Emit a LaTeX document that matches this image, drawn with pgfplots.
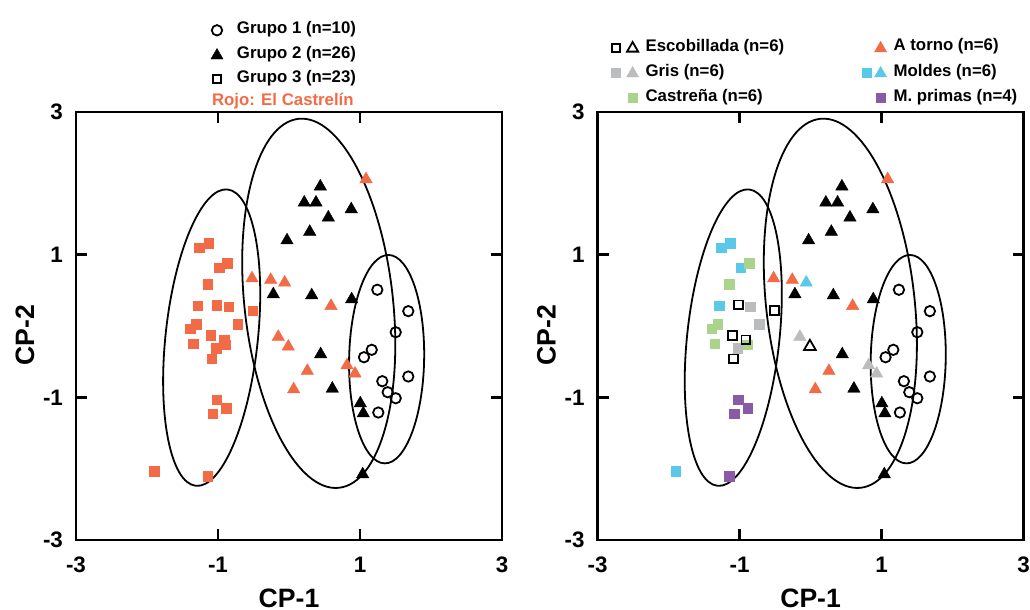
\documentclass[border=0pt]{standalone}
\usepackage{fontspec}
\setmainfont{Liberation Sans}
\usepackage{pgfplots}
\usepackage{pgfplotstable}
\pgfplotsset{compat=1.18}

\definecolor{rojo}{RGB}{242,107,70}
\definecolor{celeste}{RGB}{90,200,232}
\definecolor{verde}{RGB}{170,212,140}
\definecolor{gris}{RGB}{186,188,190}
\definecolor{morado}{RGB}{137,90,166}

\tikzset{legfont/.style={font=\fontsize{8.4}{10}\selectfont\bfseries}}

% ---------- left panel ----------
\pgfplotstableread{
x y
-1.263 1.097
-1.131 1.161
-0.982 0.816
-0.869 0.881
-1.145 0.586
-1.286 0.283
-1.018 0.295
-0.849 0.269
-0.511 0.217
-1.394 -0.039
-1.310 0.021
-0.723 0.021
-1.103 -0.133
-1.348 -0.250
-0.911 -0.194
-0.892 -0.264
-1.028 -0.311
-1.089 -0.460
-1.018 -1.035
-0.887 -1.153
-1.075 -1.231
-1.901 -2.036
-1.145 -2.107
}\tSq

\pgfplotstableread{
x y
0.441 1.955
0.215 1.730
0.380 1.730
0.877 1.636
0.554 1.520
0.292 1.320
-0.028 1.200
-0.221 0.444
0.320 0.430
0.883 0.374
0.446 -0.397
0.610 -0.879
1.004 -1.085
1.046 -1.225
1.038 -2.080
}\tTriB

\pgfplotstableread{
x y
1.085 2.057
-0.521 0.668
-0.258 0.646
-0.061 0.608
0.592 0.281
-0.151 -0.153
-0.010 -0.289
0.258 -0.630
0.817 -0.552
0.930 -0.668
0.066 -0.888
}\tTriR

\pgfplotstableread{
x y
1.244 0.508
1.680 0.208
1.503 -0.087
1.165 -0.334
1.056 -0.438
1.314 -0.774
1.680 -0.708
1.390 -0.928
1.503 -1.013
1.258 -1.213
}\tCirc

% ---------- right panel ----------
\pgfplotstableread{
x y
-1.263 1.097
-1.131 1.161
-0.982 0.816
-1.286 0.283
-1.901 -2.036
}\tSqCel

\pgfplotstableread{
x y
-0.869 0.881
-1.145 0.586
-1.394 -0.039
-1.310 0.021
-1.348 -0.250
-0.892 -0.264
}\tSqVer

\pgfplotstableread{
x y
-1.018 0.295
-0.511 0.217
-1.103 -0.133
-0.911 -0.194
-1.089 -0.460
}\tSqEsc

\pgfplotstableread{
x y
-0.849 0.269
-0.723 0.021
-1.028 -0.311
}\tSqGris

\pgfplotstableread{
x y
-1.018 -1.035
-0.887 -1.153
-1.075 -1.231
-1.145 -2.107
}\tSqMor

\pgfplotstableread{
x y
1.085 2.057
-0.521 0.668
-0.258 0.646
0.592 0.281
0.258 -0.630
0.066 -0.888
}\tTriRojo

\pgfplotstableread{
x y
-0.061 0.608
}\tTriCel

\pgfplotstableread{
x y
-0.151 -0.153
0.817 -0.552
0.930 -0.668
}\tTriGris

\pgfplotstableread{
x y
-0.010 -0.289
}\tTriEsc

\pgfplotsset{
  myax/.style={
    scale only axis, width=213pt, height=214pt,
    xmin=-3, xmax=3, ymin=-3, ymax=3,
    xtick={-3,-1,1,3}, ytick={-3,-1,1,3},
    xticklabels={-3,-1,1,3}, yticklabels={-3,-1,1,3},
    tick align=inside, major tick length=5.5pt,
    axis line style={line width=1.3pt},
    every tick/.style={black, line width=1.3pt},
    tick label style={font=\fontsize{11.2}{13}\selectfont\bfseries},
    xticklabel style={yshift=-5pt},
    yticklabel style={xshift=-3pt},
    label style={font=\fontsize{13.3}{15}\selectfont\bfseries},
    xlabel={CP-1}, ylabel={CP-2},
    xlabel style={at={(axis description cs:0.5,-0.136)}, anchor=center},
    ylabel style={at={(axis description cs:-0.12,0.479)}, anchor=center},
    legend cell align=left,
  },
  sqF/.style={only marks, forget plot, mark=square*, mark size=2.4pt, color=#1, mark options={line width=0.2pt}},
  sqO/.style={only marks, forget plot, mark=square, mark size=2.2pt, black, mark options={line width=0.9pt}},
  trF/.style={only marks, forget plot, mark=triangle*, mark size=3.6pt, color=#1, mark options={line width=0.2pt}},
  trO/.style={only marks, forget plot, mark=triangle, mark size=3.4pt, black, mark options={line width=0.9pt}},
  ciO/.style={only marks, forget plot, mark=o, mark size=2.6pt, black, mark options={line width=0.9pt}},
}

% legend image geometry (shifted down to compensate pgfplots' own lift)
\def\bbL{(-4pt,-5.3pt) rectangle (10pt,2.7pt)}
\def\bbR{(-4pt,-5.3pt) rectangle (15pt,2.7pt)}
\def\bbRR{(-4pt,-5.3pt) rectangle (13.5pt,2.7pt)}
\def\my{-0.5pt}
\def\ty{-0.9pt}

\newcommand{\ellipses}{%
  \draw[line width=0.9pt, rotate around={83.9:(axis cs:-1.089,-0.163)}] (axis cs:-1.089,-0.163) ellipse [x radius=2.099, y radius=0.647];
  \draw[line width=0.9pt, rotate around={96.27:(axis cs:0.419,0.318)}] (axis cs:0.419,0.318) ellipse [x radius=2.614, y radius=1.041];
  \draw[line width=0.9pt, rotate around={88.9:(axis cs:1.375,-0.465)}] (axis cs:1.375,-0.465) ellipse [x radius=1.468, y radius=0.526];
}

\begin{document}
\begin{tikzpicture}
\useasboundingbox (0,0) rectangle (515pt,305pt);

% ================= LEFT =================
\begin{axis}[myax, at={(38pt,35pt)}, anchor=south west,
  legend style={at={(axis description cs:0.3122,1.2119)}, anchor=north west,
    draw=none, fill=none, inner sep=0pt, outer sep=0pt, row sep=2.9pt, legfont,
    nodes={inner sep=0pt, outer sep=0pt, text height=6.2pt, text depth=1.8pt}}]
\addplot[sqF=rojo] table {\tSq};
\addplot[trF=black] table {\tTriB};
\addplot[trF=rojo] table {\tTriR};
\addplot[ciO] table {\tCirc};
\ellipses
\addlegendimage{legend image code/.code={\path[draw=none,fill=none] \bbL;
  \draw[black,line width=0.9pt] plot[mark=o, mark size=2.6pt] coordinates {(0pt,\my)};}}
\addlegendentry{Grupo 1 (n=10)}
\addlegendimage{legend image code/.code={\path[draw=none,fill=none] \bbL;
  \draw[black,fill=black,line width=0.2pt] plot[mark=triangle*, mark size=3.5pt] coordinates {(0pt,\ty)};}}
\addlegendentry{Grupo 2 (n=26)}
\addlegendimage{legend image code/.code={\path[draw=none,fill=none] \bbL;
  \draw[black,line width=0.9pt] plot[mark=square, mark size=2pt] coordinates {(0pt,\my)};}}
\addlegendentry{Grupo 3 (n=23)}
\end{axis}
\node[anchor=base west, text=rojo, legfont, inner sep=0pt] at (105.85pt,252pt) {Rojo: El Castrelín};

% ================= RIGHT =================
\begin{axis}[myax, at={(298.8pt,35pt)}, anchor=south west,
  legend style={at={(axis description cs:0.0235,1.1715)}, anchor=north west,
    draw=none, fill=none, inner sep=0pt, outer sep=0pt, row sep=3.25pt, legfont,
    nodes={inner sep=0pt, outer sep=0pt, text height=6.2pt, text depth=1.8pt}}]
\addplot[sqF=celeste] table {\tSqCel};
\addplot[sqF=verde] table {\tSqVer};
\addplot[sqF=gris] table {\tSqGris};
\addplot[sqF=morado] table {\tSqMor};
\addplot[sqO] table {\tSqEsc};
\addplot[trF=black] table {\tTriB};
\addplot[trF=rojo] table {\tTriRojo};
\addplot[trF=celeste] table {\tTriCel};
\addplot[trF=gris] table {\tTriGris};
\addplot[trO] table {\tTriEsc};
\addplot[ciO] table {\tCirc};
\ellipses
\addlegendimage{legend image code/.code={\path[draw=none,fill=none] \bbR;
  \draw[black,line width=0.9pt] plot[mark=square, mark size=2pt] coordinates {(0pt,\my)};
  \draw[black,line width=0.9pt] plot[mark=triangle, mark size=3.2pt] coordinates {(8.5pt,\ty)};}}
\addlegendentry{Escobillada (n=6)}
\addlegendimage{legend image code/.code={\path[draw=none,fill=none] \bbR;
  \draw[gris,fill=gris,line width=0.2pt] plot[mark=square*, mark size=2.2pt] coordinates {(0pt,\my)};
  \draw[gris,fill=gris,line width=0.2pt] plot[mark=triangle*, mark size=3.5pt] coordinates {(8.5pt,\ty)};}}
\addlegendentry{Gris (n=6)}
\addlegendimage{legend image code/.code={\path[draw=none,fill=none] \bbR;
  \draw[verde,fill=verde,line width=0.2pt] plot[mark=square*, mark size=2.2pt] coordinates {(8.5pt,\my)};}}
\addlegendentry{Castreña (n=6)}
\end{axis}

\begin{axis}[scale only axis, width=213pt, height=214pt, at={(298.8pt,35pt)}, anchor=south west,
  hide axis, xmin=0, xmax=1, ymin=0, ymax=1, legend cell align=left,
  legend style={at={(axis description cs:0.6127,1.1715)}, anchor=north west,
    draw=none, fill=none, inner sep=0pt, outer sep=0pt, row sep=3.25pt, legfont,
    nodes={inner sep=0pt, outer sep=0pt, text height=6.2pt, text depth=1.8pt}}]
\addlegendimage{legend image code/.code={\path[draw=none,fill=none] \bbRR;
  \draw[rojo,fill=rojo,line width=0.2pt] plot[mark=triangle*, mark size=3.5pt] coordinates {(7pt,\ty)};}}
\addlegendentry{A torno (n=6)}
\addlegendimage{legend image code/.code={\path[draw=none,fill=none] \bbRR;
  \draw[celeste,fill=celeste,line width=0.2pt] plot[mark=square*, mark size=2.2pt] coordinates {(0pt,\my)};
  \draw[celeste,fill=celeste,line width=0.2pt] plot[mark=triangle*, mark size=3.5pt] coordinates {(7pt,\ty)};}}
\addlegendentry{Moldes (n=6)}
\addlegendimage{legend image code/.code={\path[draw=none,fill=none] \bbRR;
  \draw[morado,fill=morado,line width=0.2pt] plot[mark=square*, mark size=2.2pt] coordinates {(7pt,\my)};}}
\addlegendentry{M. primas (n=4)}
\end{axis}
\end{tikzpicture}
\end{document}
